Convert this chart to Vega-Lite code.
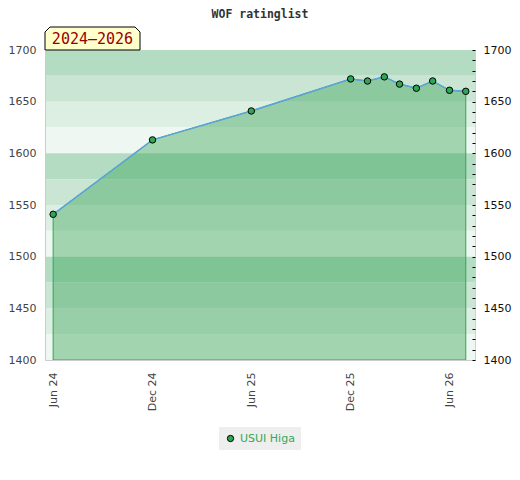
{
  "$schema": "https://vega.github.io/schema/vega-lite/v6.json",
  "autosize": {"type": "none"},
  "padding": {"left": 45, "top": 50, "right": 45, "bottom": 120},
  "width": 430,
  "height": 310,
  "title": {
    "text": "WOF ratinglist",
    "font": "DejaVu Sans Mono",
    "fontSize": 11.5,
    "fontWeight": "bold",
    "color": "#333333",
    "frame": "group",
    "offset": 5
  },
  "datasets": {
    "ratings": [
      {"player": "USUI Higa", "month": "2024-06-01", "rating": 1541},
      {"player": "USUI Higa", "month": "2024-12-01", "rating": 1613},
      {"player": "USUI Higa", "month": "2025-06-01", "rating": 1641},
      {"player": "USUI Higa", "month": "2025-12-01", "rating": 1672},
      {"player": "USUI Higa", "month": "2026-01-01", "rating": 1670},
      {"player": "USUI Higa", "month": "2026-02-01", "rating": 1674},
      {"player": "USUI Higa", "month": "2026-03-01", "rating": 1667},
      {"player": "USUI Higa", "month": "2026-04-01", "rating": 1663},
      {"player": "USUI Higa", "month": "2026-05-01", "rating": 1670},
      {"player": "USUI Higa", "month": "2026-06-01", "rating": 1661},
      {"player": "USUI Higa", "month": "2026-07-01", "rating": 1660}
    ],
    "bands": [
      {"lo": 1675, "hi": 1700, "tier": "a"},
      {"lo": 1650, "hi": 1675, "tier": "b"},
      {"lo": 1625, "hi": 1650, "tier": "c"},
      {"lo": 1600, "hi": 1625, "tier": "d"},
      {"lo": 1575, "hi": 1600, "tier": "a"},
      {"lo": 1550, "hi": 1575, "tier": "b"},
      {"lo": 1525, "hi": 1550, "tier": "c"},
      {"lo": 1500, "hi": 1525, "tier": "d"},
      {"lo": 1475, "hi": 1500, "tier": "a"},
      {"lo": 1450, "hi": 1475, "tier": "b"},
      {"lo": 1425, "hi": 1450, "tier": "c"},
      {"lo": 1400, "hi": 1425, "tier": "d"}
    ],
    "period": [
      {"label": "2024–2026"}
    ]
  },
  "layer": [
    {
      "layer": [
        {
          "data": {"name": "bands"},
          "mark": {"type": "rect"},
          "encoding": {
            "y": {
              "field": "lo",
              "type": "quantitative",
              "scale": {"domain": [1400, 1700], "nice": false, "zero": false},
              "axis": {
                "title": null,
                "values": [1400, 1450, 1500, 1550, 1600, 1650, 1700],
                "format": "d",
                "ticks": false,
                "grid": false,
                "labelPadding": 9,
                "labelColor": "#444444",
                "domainColor": "#cccccc",
                "zindex": 1
              }
            },
            "y2": {"field": "hi"},
            "fill": {
              "field": "tier",
              "type": "nominal",
              "scale": {"domain": ["a", "b", "c", "d"], "range": ["#b3dcc2", "#cae5d4", "#ddeee3", "#eef7f1"]},
              "legend": null
            }
          }
        },
        {
          "data": {"name": "ratings"},
          "encoding": {
            "x": {
              "field": "month",
              "type": "temporal",
              "scale": {
                "type": "utc",
                "domain": [
                  {"year": 2024, "month": 5, "date": 17, "utc": true},
                  {"year": 2026, "month": 7, "date": 18, "utc": true}
                ],
                "nice": false
              },
              "axis": {
                "title": null,
                "values": [
                  {"year": 2024, "month": 6, "date": 1, "utc": true},
                  {"year": 2024, "month": 12, "date": 1, "utc": true},
                  {"year": 2025, "month": 6, "date": 1, "utc": true},
                  {"year": 2025, "month": 12, "date": 1, "utc": true},
                  {"year": 2026, "month": 6, "date": 1, "utc": true}
                ],
                "format": "%b %y",
                "labelAngle": 270,
                "labelAlign": "right",
                "labelBaseline": "middle",
                "labelFlush": false,
                "labelPadding": 12,
                "labelColor": "#444444",
                "ticks": false,
                "grid": false,
                "domainColor": "#cccccc",
                "zindex": 1
              }
            },
            "y": {
              "field": "rating",
              "type": "quantitative",
              "scale": {"domain": [1400, 1700], "nice": false, "zero": false},
              "axis": {"title": null}
            }
          },
          "layer": [
            {
              "mark": {"type": "area", "fill": "#32a050", "fillOpacity": 0.4, "stroke": "#2ea84c", "strokeWidth": 1},
              "encoding": {"y2": {"datum": 1400}}
            },
            {
              "mark": {"type": "line", "color": "#5ba3d9", "strokeWidth": 1.5}
            },
            {
              "mark": {"type": "point", "filled": true, "size": 42, "opacity": 1, "stroke": "black", "strokeWidth": 1},
              "encoding": {
                "color": {
                  "field": "player",
                  "type": "nominal",
                  "scale": {"range": ["#2ea653"]},
                  "legend": {
                    "title": null,
                    "orient": "bottom",
                    "direction": "horizontal",
                    "fillColor": "#eeeeee",
                    "padding": 6,
                    "offset": 16,
                    "labelColor": "#33a85a",
                    "labelFontSize": 11,
                    "symbolSize": 40,
                    "symbolStrokeColor": "black",
                    "symbolStrokeWidth": 1
                  }
                }
              }
            }
          ]
        },
        {
          "data": {"name": "period"},
          "encoding": {
            "x": {"datum": {"year": 2024, "month": 5, "date": 17, "utc": true}, "type": "temporal", "scale": {"type": "utc"}, "axis": {"title": null}},
            "y": {"datum": 1700, "type": "quantitative", "axis": {"title": null}}
          },
          "layer": [
            {
              "mark": {
                "type": "point",
                "shape": "M-1,0.242L-1,-0.137L-0.895,-0.242L0.895,-0.242L1,-0.137L1,0.242Z",
                "size": 9025,
                "filled": true,
                "fill": "#ffffcc",
                "stroke": "black",
                "strokeWidth": 1,
                "opacity": 1,
                "xOffset": 47.5,
                "yOffset": -11.5
              }
            },
            {
              "mark": {
                "type": "text",
                "font": "DejaVu Sans Mono",
                "fontSize": 15,
                "color": "#990000",
                "align": "center",
                "baseline": "middle",
                "xOffset": 47.5,
                "yOffset": -11
              },
              "encoding": {"text": {"field": "label"}}
            }
          ]
        }
      ]
    },
    {
      "data": {"name": "ratings"},
      "mark": {"type": "rule", "opacity": 0},
      "encoding": {
        "y": {
          "field": "rating",
          "type": "quantitative",
          "scale": {"domain": [1400, 1700], "nice": false, "zero": false},
          "axis": {
            "title": null,
            "orient": "right",
            "values": [1400, 1410, 1420, 1430, 1440, 1450, 1460, 1470, 1480, 1490, 1500, 1510, 1520, 1530, 1540, 1550, 1560, 1570, 1580, 1590, 1600, 1610, 1620, 1630, 1640, 1650, 1660, 1670, 1680, 1690, 1700],
            "format": "d",
            "labelExpr": "datum.value % 50 === 0 ? datum.label : ''",
            "domain": false,
            "grid": false,
            "offset": -3,
            "tickSize": 3,
            "tickColor": "#000000",
            "labelPadding": 8,
            "labelColor": "#111111",
            "zindex": 1
          }
        }
      }
    }
  ],
  "resolve": {"scale": {"y": "independent"}},
  "config": {
    "font": "DejaVu Sans",
    "view": {"stroke": "#d0d0d0"},
    "axis": {"labelFontSize": 11, "labelFont": "DejaVu Sans"},
    "legend": {"labelFont": "DejaVu Sans", "layout": {"bottom": {"anchor": "middle"}}}
  }
}
